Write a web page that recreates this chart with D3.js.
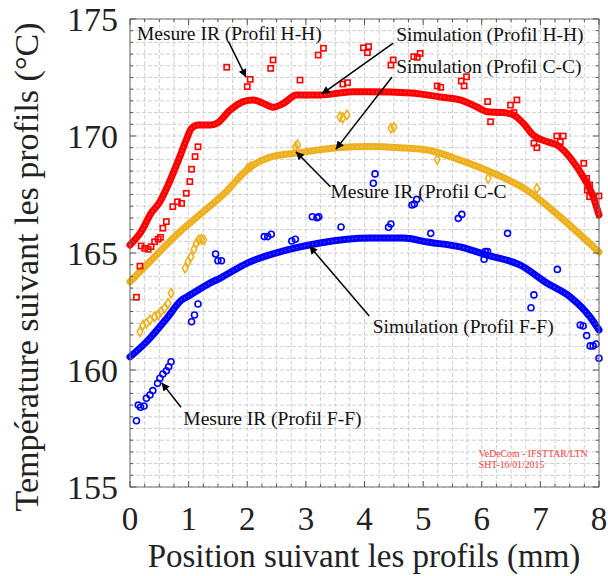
<!DOCTYPE html>
<html>
<head>
<meta charset="utf-8">
<script src="https://cdn.jsdelivr.net/npm/d3@7"></script>
<style>
  body { margin: 0; background: #fff; }
  svg { display: block; font-family: "Liberation Serif", "Times New Roman", serif; }
</style>
</head>
<body>
<div id="chart"></div>
<script>
// Simulation profiles [position mm, temperature °C]
var simHH = [[0, 165.34], [0.19, 165.91], [0.36, 166.70], [0.51, 167.19], [0.65, 167.91], [0.85, 169.12],
  [0.97, 169.90], [1.05, 170.33], [1.17, 170.47], [1.37, 170.47], [1.48, 170.54], [1.71, 171.11],
  [1.93, 171.47], [2.10, 171.54], [2.27, 171.40], [2.44, 171.23], [2.62, 171.40], [2.84, 171.75],
  [3.24, 171.75], [3.80, 171.89], [4.09, 171.89], [4.79, 171.84], [5.29, 171.67], [5.63, 171.54],
  [5.91, 171.25], [6.09, 171.04], [6.37, 171.00], [6.54, 170.90], [6.71, 170.54], [6.88, 170.04],
  [7.11, 169.76], [7.28, 169.62], [7.39, 169.40], [7.56, 168.90], [7.73, 168.26], [7.90, 167.41], [8.0, 166.62]];
var simCC = [[0, 163.77], [0.31, 164.56], [0.82, 165.84], [1.22, 166.70], [1.64, 167.62], [1.99, 168.55],
  [2.39, 169.10], [2.90, 169.29], [3.53, 169.50], [4.09, 169.55], [4.60, 169.50], [5.07, 169.40],
  [5.63, 168.97], [6.19, 168.42], [6.77, 167.69], [7.34, 166.54], [8.0, 165.04]];
var simFF = [[0, 160.56], [0.31, 161.28], [0.65, 162.28], [0.88, 162.99], [0.97, 163.12], [1.37, 163.72],
  [1.54, 163.93], [2.00, 164.57], [2.68, 165.13], [3.24, 165.43], [4.09, 165.64], [4.66, 165.64],
  [5.07, 165.47], [5.63, 165.26], [6.09, 164.91], [6.65, 164.49], [7.11, 163.72], [7.51, 163.12],
  [7.85, 162.26], [8.0, 161.71]];

// IR measurements
var irHH = [[0.11, 163.11], [0.17, 164.44], [0.19, 165.30], [0.25, 165.20], [0.31, 165.16], [0.36, 165.27],
  [0.42, 165.48], [0.48, 165.59], [0.52, 165.67], [0.56, 166.06], [0.62, 166.34], [0.73, 166.98],
  [0.81, 167.19], [0.88, 167.12], [0.96, 167.55], [1.02, 168.05], [1.05, 168.58], [1.11, 169.12],
  [1.16, 169.54], [1.65, 172.94], [2.00, 172.11], [2.05, 172.42], [2.40, 172.89], [2.44, 173.25],
  [2.90, 172.39], [3.21, 173.46], [3.30, 173.75], [3.63, 172.22], [3.71, 172.28], [3.98, 173.77],
  [4.05, 173.56], [4.07, 173.82], [4.45, 173.03], [4.49, 173.25], [4.84, 173.39], [4.90, 173.36],
  [4.95, 173.53], [5.24, 172.14], [5.30, 172.08], [5.65, 172.35], [5.70, 172.14], [5.74, 172.53],
  [6.10, 171.47], [6.15, 170.61], [6.49, 171.32], [6.55, 171.00], [6.60, 171.54], [6.89, 169.69],
  [6.94, 169.50], [7.28, 170.00], [7.34, 169.76], [7.39, 170.00], [7.74, 168.83], [7.79, 168.19],
  [7.84, 167.91], [7.80, 167.69], [7.84, 167.41], [8.0, 167.44]];
var irCC = [[0.17, 161.64], [0.22, 161.92], [0.28, 162.00], [0.34, 162.14], [0.42, 162.28], [0.48, 162.35],
  [0.53, 162.49], [0.59, 162.64], [0.65, 162.85], [0.70, 163.28], [0.94, 164.35], [0.99, 164.63],
  [1.04, 164.84], [1.09, 165.16], [1.13, 165.41], [1.17, 165.56], [1.22, 165.59], [1.26, 165.56],
  [2.01, 168.63], [2.06, 168.69], [2.82, 169.54], [2.86, 169.62], [3.58, 170.82], [3.63, 170.77],
  [3.70, 170.90], [4.45, 170.33], [4.50, 170.37], [5.24, 169.00], [6.11, 168.19], [6.94, 167.76]];
var irFF = [[0.11, 157.83], [0.14, 158.50], [0.18, 158.41], [0.24, 158.46], [0.28, 158.79], [0.34, 158.93],
  [0.39, 159.12], [0.47, 159.43], [0.51, 159.65], [0.56, 159.83], [0.62, 159.97], [0.66, 160.14],
  [0.70, 160.35], [1.05, 162.06], [1.10, 162.35], [1.16, 162.82], [1.46, 164.96], [1.50, 164.67],
  [1.56, 164.67], [2.29, 165.70], [2.35, 165.70], [2.41, 165.80], [2.76, 165.51], [2.82, 165.59],
  [3.11, 166.55], [3.19, 166.51], [3.22, 166.55], [3.60, 166.11], [4.15, 167.98], [4.18, 168.38],
  [4.41, 166.10], [4.45, 166.24], [4.81, 167.05], [4.85, 167.09], [4.89, 167.29], [5.13, 165.84],
  [5.60, 166.48], [5.66, 166.65], [6.04, 164.73], [6.06, 165.06], [6.10, 165.06], [6.44, 165.84],
  [6.84, 162.66], [6.89, 163.21], [7.29, 164.30], [7.68, 161.92], [7.73, 161.88], [7.79, 161.47],
  [7.85, 161.03], [7.90, 161.03], [7.95, 161.11], [8.0, 160.50]];

var xTicks = [0, 1, 2, 3, 4, 5, 6, 7, 8];
var yTicks = [155, 160, 165, 170, 175];

// annotations: label, text anchor [x, T], arrow start, arrow tip
var notes = [
  { text: 'Mesure IR (Profil H-H)', at: [0.12, 174.10], from: [1.68, 174.03], to: [1.98, 172.51] },
  { text: 'Simulation (Profil H-H)', at: [4.54, 174.07], from: [4.49, 173.97], to: [3.27, 171.79] },
  { text: 'Simulation (Profil C-C)', at: [4.54, 172.71], from: [4.47, 172.52], to: [3.51, 169.43] },
  { text: 'Mesure IR (Profil C-C', at: [3.42, 167.36], from: [3.42, 167.83], to: [2.83, 169.33] },
  { text: 'Simulation (Profil F-F)', at: [4.14, 161.57], from: [4.08, 162.31], to: [3.06, 165.30] },
  { text: 'Mesure IR (Profil F-F)', at: [0.91, 157.65], from: [0.87, 158.41], to: [0.54, 159.46] }
];

var W = 608, H = 576;
var margin = { left: 130, top: 19, right: 9, bottom: 89 };
var pw = W - margin.left - margin.right, ph = H - margin.top - margin.bottom;

var svg = d3.select('#chart').append('svg').attr('width', W).attr('height', H);
svg.append('rect').attr('width', W).attr('height', H).attr('fill', '#fff');

var defs = svg.append('defs');
defs.append('marker')
  .attr('id', 'head').attr('viewBox', '0 0 10 10').attr('refX', 10).attr('refY', 5)
  .attr('markerWidth', 10).attr('markerHeight', 8).attr('markerUnits', 'userSpaceOnUse')
  .attr('orient', 'auto')
  .append('path').attr('d', 'M0,0L10,5L0,10Z').attr('fill', '#000');
defs.append('clipPath').attr('id', 'clip')
  .append('rect').attr('x', -4).attr('y', -4).attr('width', pw + 8).attr('height', ph + 8);

var g = svg.append('g').attr('transform', 'translate(' + margin.left + ',' + margin.top + ')');

var x = d3.scaleLinear().domain([0, 8]).range([0, pw]);
var y = d3.scaleLinear().domain([155, 175]).range([ph, 0]);

// grid (minor spacing)
var gx = d3.range(0, 8.001, 0.25), gy = d3.range(155, 175.001, 0.5);
g.append('g').selectAll('line').data(gx).enter().append('line')
  .attr('x1', function (d) { return x(d); }).attr('x2', function (d) { return x(d); })
  .attr('y1', 0).attr('y2', ph)
  .attr('stroke', '#cfcfcf').attr('stroke-dasharray', '4,2');
g.append('g').selectAll('line').data(gy).enter().append('line')
  .attr('y1', function (d) { return y(d); }).attr('y2', function (d) { return y(d); })
  .attr('x1', 0).attr('x2', pw)
  .attr('stroke', '#cfcfcf').attr('stroke-dasharray', '4,2');

// simulation curves drawn as a thick band
var line = d3.line().x(function (d) { return x(d[0]); }).y(function (d) { return y(d[1]); })
  .curve(d3.curveMonotoneX);
var sims = [[simHH, '#ff0000'], [simCC, '#edb120'], [simFF, '#0000ff']];
var plot = g.append('g').attr('clip-path', 'url(#clip)');
sims.forEach(function (s) {
  plot.append('path').datum(s[0]).attr('d', line)
    .attr('fill', 'none').attr('stroke', s[1]).attr('stroke-width', 7)
    .attr('stroke-linecap', 'round').attr('stroke-linejoin', 'round');
  plot.append('path').datum(s[0]).attr('d', line)
    .attr('fill', 'none').attr('stroke', '#fff').attr('stroke-opacity', 0.45)
    .attr('stroke-width', 1.2).attr('stroke-dasharray', '1,3');
});

// IR measurements
plot.append('g').selectAll('rect').data(irHH).enter().append('rect')
  .attr('x', function (d) { return x(d[0]) - 2.6; }).attr('y', function (d) { return y(d[1]) - 2.6; })
  .attr('width', 5.2).attr('height', 5.2)
  .attr('fill', 'none').attr('stroke', '#ff0000').attr('stroke-width', 1.6);
plot.append('g').selectAll('path').data(irCC).enter().append('path')
  .attr('transform', function (d) { return 'translate(' + x(d[0]) + ',' + y(d[1]) + ')'; })
  .attr('d', d3.symbol().type(d3.symbolDiamond).size(26))
  .attr('fill', 'none').attr('stroke', '#edb120').attr('stroke-width', 1.6);
plot.append('g').selectAll('circle').data(irFF).enter().append('circle')
  .attr('cx', function (d) { return x(d[0]); }).attr('cy', function (d) { return y(d[1]); })
  .attr('r', 3).attr('fill', 'none').attr('stroke', '#0000ff').attr('stroke-width', 1.6);

// box with inward ticks
g.append('rect').attr('width', pw).attr('height', ph)
  .attr('fill', 'none').attr('stroke', '#707070').attr('stroke-width', 1);
var ticks = g.append('g').attr('stroke', '#555').attr('stroke-width', 1);
gx.forEach(function (d) {
  var len = (d % 1 === 0) ? 6 : 3;
  ticks.append('line').attr('x1', x(d)).attr('x2', x(d)).attr('y1', ph).attr('y2', ph - len);
  ticks.append('line').attr('x1', x(d)).attr('x2', x(d)).attr('y1', 0).attr('y2', len);
});
gy.forEach(function (d) {
  var len = (d % 5 === 0) ? 6 : 3;
  ticks.append('line').attr('y1', y(d)).attr('y2', y(d)).attr('x1', 0).attr('x2', len);
  ticks.append('line').attr('y1', y(d)).attr('y2', y(d)).attr('x1', pw).attr('x2', pw - len);
});

// tick labels
g.append('g').selectAll('text').data(xTicks).enter().append('text')
  .attr('x', function (d) { return x(d); }).attr('y', ph + 43)
  .attr('text-anchor', 'middle').attr('font-size', 33).attr('fill', '#222')
  .text(function (d) { return d; });
g.append('g').selectAll('text').data(yTicks).enter().append('text')
  .attr('x', -12).attr('y', function (d) { return y(d); }).attr('dy', '0.34em')
  .attr('text-anchor', 'end').attr('font-size', 34).attr('fill', '#222')
  .text(function (d) { return d; });

// axis titles
svg.append('text').attr('x', margin.left + pw / 2 - 0.5).attr('y', 567)
  .attr('text-anchor', 'middle').attr('font-size', 33).attr('fill', '#222')
  .text('Position suivant les profils (mm)');
svg.append('text').attr('transform', 'translate(38,267) rotate(-90)')
  .attr('text-anchor', 'middle').attr('font-size', 34).attr('fill', '#222')
  .text('Température suivant les profils (°C)');

// annotations
var ann = g.append('g');
notes.forEach(function (n) {
  ann.append('line')
    .attr('x1', x(n.from[0])).attr('y1', y(n.from[1]))
    .attr('x2', x(n.to[0])).attr('y2', y(n.to[1]))
    .attr('stroke', '#000').attr('stroke-width', 1.5).attr('marker-end', 'url(#head)');
  ann.append('text').attr('x', x(n.at[0])).attr('y', y(n.at[1]))
    .attr('font-size', 19.5).attr('fill', '#111').text(n.text);
});

// watermark
var wm = ann.append('text').attr('font-size', 9.8).attr('fill', '#f03c3c');
wm.append('tspan').attr('x', x(5.95)).attr('y', y(156.29)).text('VeDeCom - IFSTTAR/LTN');
wm.append('tspan').attr('x', x(5.95)).attr('y', y(155.80)).text('SHT-16/01/2015');
</script>
</body>
</html>
